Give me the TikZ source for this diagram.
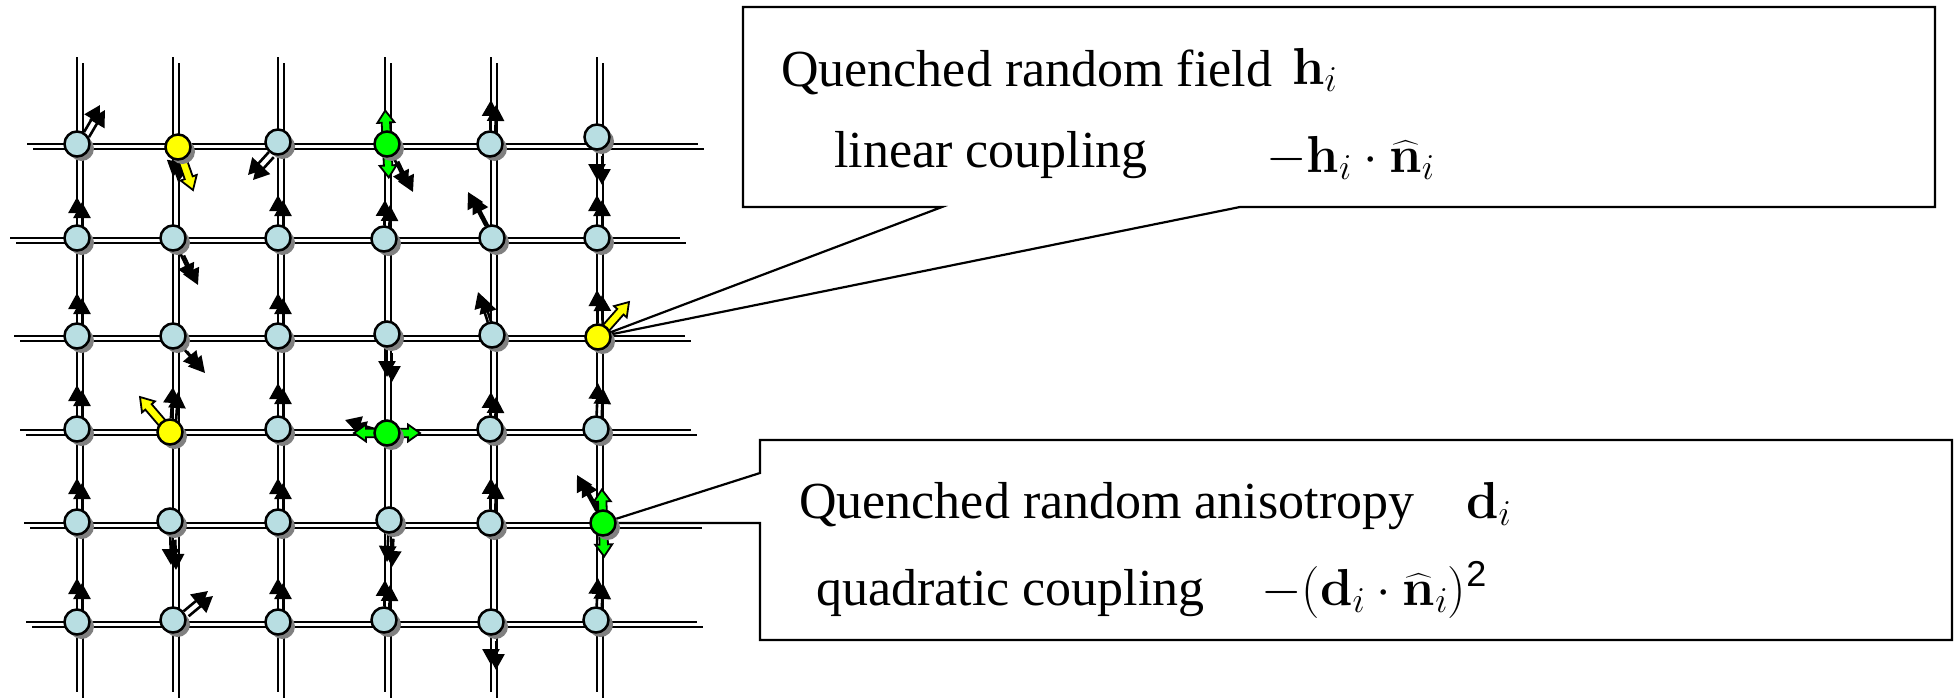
\RequirePackage{fix-cm}
\documentclass[tikz,border=0pt]{standalone}
\usepackage{amsmath}
\usepackage[no-math]{fontspec}
\setmainfont{Liberation Serif}
\newfontfamily\supfont{Liberation Sans}
\usetikzlibrary{arrows.meta,calc,shadows}
\pgfdeclarelayer{gridl}
\pgfdeclarelayer{arrl}
\pgfsetlayers{gridl,arrl,main}
\definecolor{siteblue}{RGB}{184,222,226}
\definecolor{shade}{RGB}{128,128,128}
\definecolor{fieldyellow}{RGB}{255,255,0}
\definecolor{quadgreen}{RGB}{0,255,0}

\newcommand\fieldarrow[3]{%
  \begin{scope}[shift={(#1.center)}, rotate={atan2(-(#3),#2)}]
    \pgfmathsetmacro\fL{veclen(#2,#3)}
    \draw[fieldstyle] (11,-4.2) -- (\fL-13,-4.2) -- (\fL-13,-8.5) -- (\fL,0) -- (\fL-13,8.5) -- (\fL-13,4.2) -- (11,4.2) -- cycle;
  \end{scope}}
\newcommand\quadarrow[3]{%
  \begin{scope}[shift={(#1.center)}, rotate=#2]
    \draw[quadstyle] (-#3,0) -- (-#3+12,-8.5) -- (-#3+12,-4.2) -- (#3-12,-4.2) -- (#3-12,-8.5) -- (#3,0) -- (#3-12,8.5) -- (#3-12,4.2) -- (-#3+12,4.2) -- (-#3+12,8.5) -- cycle;
  \end{scope}}

\begin{document}
\begin{tikzpicture}[x=1pt,y=-1pt,
  site/.style={circle, draw=black, line width=2.5pt, minimum size=25pt, inner sep=0pt, fill=siteblue,
    drop shadow={shadow xshift=4.5pt, shadow yshift=-4.5pt, fill=shade, opacity=1}},
  hsite/.style={site, fill=fieldyellow},
  dsite/.style={site, fill=quadgreen},
  gridline/.style={line width=2.6pt, black},
  gridshade/.style={line width=2.6pt, shade},
  spinarrow/.style={line width=2.6pt, black, -{Triangle[length=16pt,width=17pt]}},
  spinshade/.style={line width=2.6pt, shade, -{Triangle[length=16pt,width=17pt]}},
  fieldstyle/.style={draw=black, line width=1.8pt, fill=fieldyellow, line join=miter},
  quadstyle/.style={draw=black, line width=1.8pt, fill=quadgreen, line join=miter},
  callout/.style={draw=black, line width=2.2pt, fill=white, line join=miter},
  txt/.style={inner sep=0pt, anchor=base west, font=\fontsize{52}{60}\selectfont}
]
\useasboundingbox (0,0) rectangle (1959,699);

% lattice sites
\node[site]  (n11) at (77,144) {};
\node[hsite] (n21) at (178,147) {};
\node[site]  (n31) at (278,142) {};
\node[dsite] (n41) at (387,144) {};
\node[site]  (n51) at (490,144) {};
\node[site]  (n61) at (597,137) {};
\node[site]  (n12) at (77,238) {};
\node[site]  (n22) at (173,238) {};
\node[site]  (n32) at (278,238) {};
\node[site]  (n42) at (384,239) {};
\node[site]  (n52) at (492,238) {};
\node[site]  (n62) at (597,238) {};
\node[site]  (n13) at (77,336) {};
\node[site]  (n23) at (173,336) {};
\node[site]  (n33) at (278,336) {};
\node[site]  (n43) at (387,334) {};
\node[site]  (n53) at (492,335) {};
\node[hsite] (n63) at (598,337) {};
\node[site]  (n14) at (77,429) {};
\node[hsite] (n24) at (170,432) {};
\node[site]  (n34) at (278,429) {};
\node[dsite] (n44) at (387,433) {};
\node[site]  (n54) at (490,429) {};
\node[site]  (n64) at (596,429) {};
\node[site]  (n15) at (77,522) {};
\node[site]  (n25) at (170,521) {};
\node[site]  (n35) at (278,522) {};
\node[site]  (n45) at (389,520) {};
\node[site]  (n55) at (490,523) {};
\node[dsite] (n65) at (603,523) {};
\node[site]  (n16) at (77,622) {};
\node[site]  (n26) at (173,620) {};
\node[site]  (n36) at (278,622) {};
\node[site]  (n46) at (384,620) {};
\node[site]  (n56) at (491,622) {};
\node[site]  (n66) at (596,620) {};

% lattice lines
\begin{pgfonlayer}{gridl}
  \foreach \x in {77,173,278,385,491,597} {\draw[gridshade] (\x+6,63) -- (\x+6,698);}
  \foreach \y/\a/\b in {144/27/698, 238/10/680, 336/14/685, 430/20/691, 523/24/696, 622/26/697}
    {\draw[gridshade] (\a+6,\y+5) -- (\b+6,\y+5);}
  \foreach \x in {77,173,278,385,491,597} {\draw[gridline] (\x,57) -- (\x,692);}
  \foreach \y/\a/\b in {144/27/698, 238/10/680, 336/14/685, 430/20/691, 523/24/696, 622/26/697}
    {\draw[gridline] (\a,\y) -- (\b,\y);}
\end{pgfonlayer}

\def\spinlist{n11/23/-39, n21/-5/30, n31/-30/33, n41/21/43, n51/1/-44, n61/0/43,
  n12/0/-41, n22/20/42, n32/0/-43, n42/1/-39, n52/-24/-46, n62/0/-43,
  n13/0/-43, n23/27/32, n33/0/-43, n43/0/43, n53/-14/-43, n63/-1/-47,
  n14/0/-44, n24/3/-45, n34/0/-46, n44/-42/-13, n54/1/-37, n64/2/-46,
  n15/0/-44, n25/1/44, n35/0/-44, n45/-2/42, n55/1/-45, n65/-26/-48,
  n16/0/-44, n26/35/-29, n36/0/-44, n46/1/-40, n56/0/43, n66/2/-42}

\begin{pgfonlayer}{arrl}
  \foreach \n/\dx/\dy in \spinlist
    {\draw[spinshade, transform canvas={shift={(5,5)}}] (\n) -- ($(\n)+(\dx,\dy)$);}
  \foreach \n/\dx/\dy in \spinlist
    {\draw[spinarrow] (\n) -- ($(\n)+(\dx,\dy)$);}
  % random fields
  \fieldarrow{n21}{15}{43}
  \fieldarrow{n63}{31}{-35}
  \fieldarrow{n24}{-30}{-35}
  % random anisotropy axes
  \quadarrow{n41}{93}{33.5}
  \quadarrow{n44}{0}{33}
  \quadarrow{n65}{92}{33.5}
  % callouts
  \draw[callout] (743,7) -- (1935,7) -- (1935,207) -- (1240,207) -- (n63.center) -- (942,207) -- (743,207) -- cycle;
  \draw[callout] (760,440) -- (1952,440) -- (1952,640) -- (760,640) -- (760,523) -- (n65.center) -- (760,473) -- cycle;
\end{pgfonlayer}

% texts
\node[txt] (t1) at (781,86) {Quenched random field};
\node[txt] (m1) at (1292,84) {$\mathbf{h}_i$};
\node[txt] (t2) at (834,167) {linear coupling};
\node[txt] (m2) at (1266,172) {$-\mathbf{h}_i\cdot\widehat{\mathbf{n}}_i$};
\node[txt] (t3) at (799,518) {Quenched random anisotropy};
\node[txt] (m3) at (1466,518) {$\mathbf{d}_i$};
\node[txt] (t4) at (816,605) {quadratic coupling};
\node[txt] (m4) at (1261,605) {$-(\mathbf{d}_i\cdot\widehat{\mathbf{n}}_i)^{\mbox{\supfont\fontsize{36}{36}\selectfont 2}}$};
\end{tikzpicture}
\end{document}
